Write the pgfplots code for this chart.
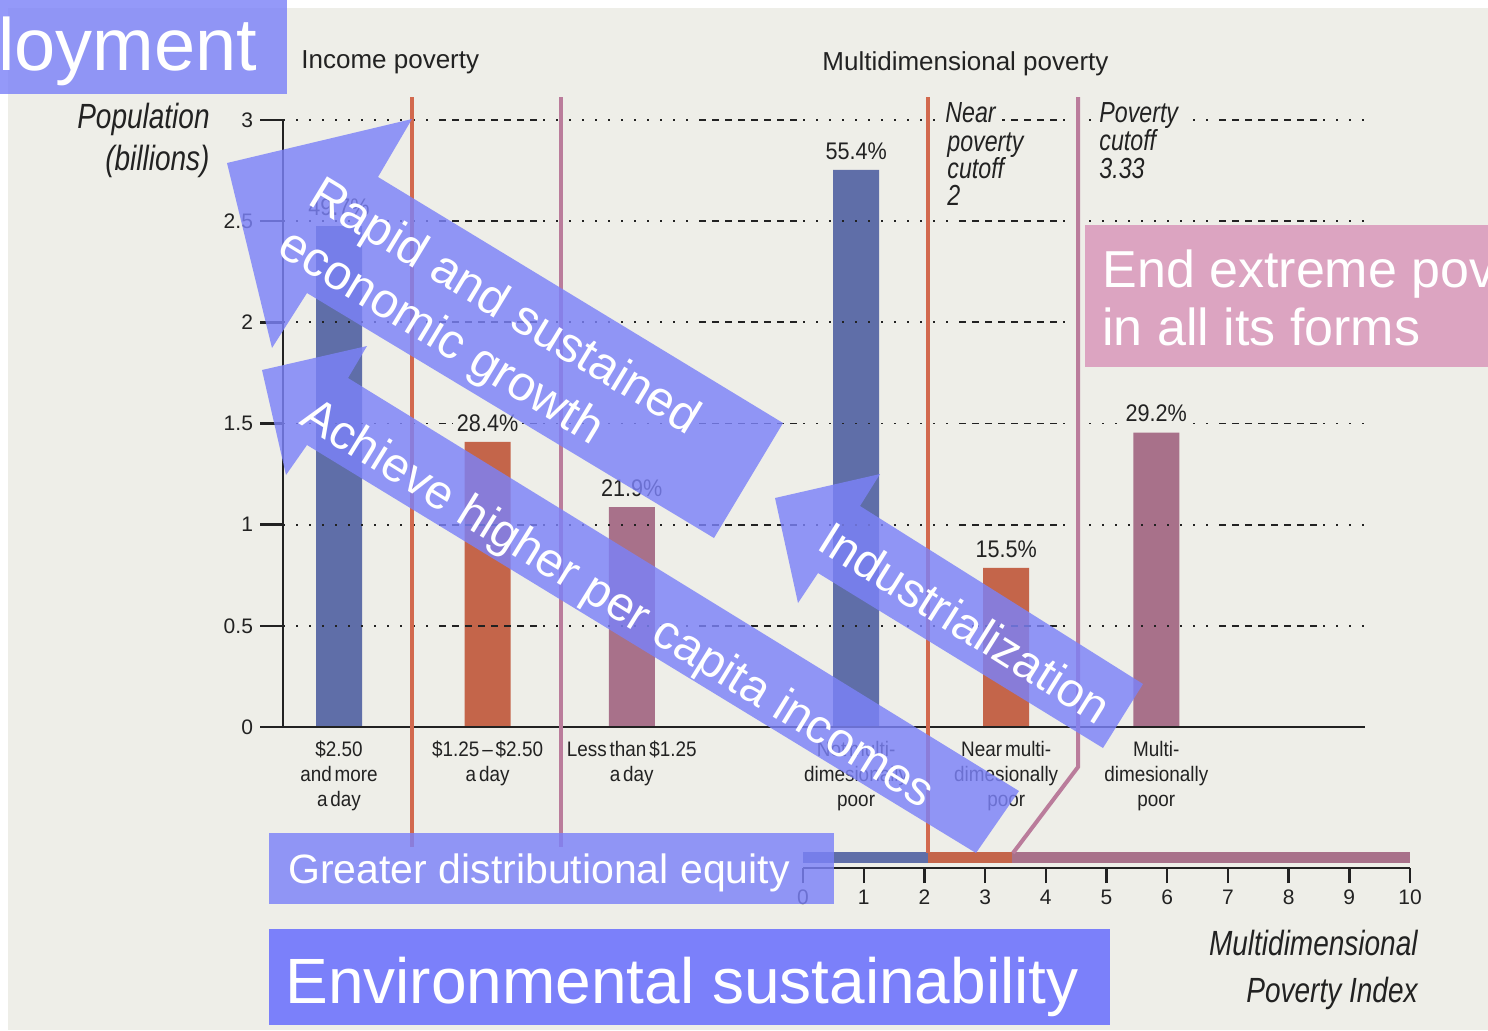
\documentclass[border=0pt]{standalone}
\usepackage{pgfplots}
\pgfplotsset{compat=1.18}
\usepackage{fontspec}
\setmainfont{Liberation Sans}
\newfontfamily\cond[FakeStretch=0.9,WordSpace=0.55]{Liberation Sans}
\newfontfamily\condi[FakeStretch=0.8]{Liberation Sans}
\definecolor{bg}{HTML}{EEEEE8}
\definecolor{bblue}{HTML}{5F6EA8}
\definecolor{borange}{HTML}{C4654A}
\definecolor{bpurple}{HTML}{A8718A}
\definecolor{lorange}{HTML}{D2694E}
\definecolor{lpurple}{HTML}{BA7C9B}
\definecolor{arr}{HTML}{7C82F8}
\definecolor{env}{HTML}{7B80FA}
\definecolor{pinkbox}{HTML}{DCA4C1}
\definecolor{ink}{HTML}{222222}
\tikzset{gridpat/.style={dash pattern=on 1pt off 5.5pt on 1pt off 5.5pt on 1pt off 5.5pt on 1pt off 5.5pt on 1pt off 5.5pt on 1pt off 5.5pt on 1pt off 5.5pt on 1pt off 5.5pt on 1pt off 5.5pt on 1pt off 5.5pt on 1pt off 5.5pt on 1pt off 5.5pt on 3.5pt off 3pt on 3.5pt off 3pt on 3.5pt off 3pt on 3.5pt off 3pt on 3.5pt off 3pt on 3.5pt off 3pt on 3.5pt off 3pt on 3.5pt off 3pt}}
\pgfplotsset{mainaxis/.style={
  at={(141.5pt,-363.5pt)}, anchor=south west,
  scale only axis, width=541pt, height=303.5pt,
  xmin=0.6231, xmax=7.9044, ymin=0, ymax=3,
  enlargelimits=false}}
\begin{document}
\begin{tikzpicture}
\path[use as bounding box] (0,0) rectangle (744pt,-515pt);
\fill[bg] (4pt,-4pt) rectangle (744pt,-515pt);

\begin{axis}[
  mainaxis,
  axis on top,
  axis x line=bottom, axis y line=left,
  axis line style={-, ink, line width=1.2pt},
  ytick={0,0.5,1,1.5,2,2.5,3},
  yticklabels={0,0.5,1,1.5,2,2.5,3},
  ytick style={ink, line width=1.2pt},
  tick align=outside, major tick length=11.5pt,
  yticklabel style={anchor=east, text=ink, font=\fontsize{10.5pt}{10.5pt}\selectfont},
  xtick={1,2,2.97,4.48,5.49,6.5},
  xticklabels={{\$2.50\\and more\\a day},{\$1.25 – \$2.50\\a day},{Less than \$1.25\\a day},{Not multi-\\dimesionally\\poor},{Near multi-\\dimesionally\\poor},{Multi-\\dimesionally\\poor}},
  xtick style={draw=none},
  xticklabel style={align=center, anchor=north, yshift=8pt, text=ink, font=\cond\fontsize{10.5pt}{12.5pt}\selectfont},
  ymajorgrids,
  major grid style={ink, line width=0.9pt, gridpat},
]
\addplot[ybar, bar width=23pt, bar shift=0pt, fill=bblue, draw=none]
  coordinates {(1,2.476) (4.48,2.753)};
\addplot[ybar, bar width=23pt, bar shift=0pt, fill=borange, draw=none]
  coordinates {(2,1.409) (5.49,0.787)};
\addplot[ybar, bar width=23pt, bar shift=0pt, fill=bpurple, draw=none]
  coordinates {(2.97,1.087) (6.5,1.455)};
\end{axis}

\begin{axis}[
  mainaxis, hide axis,
  nodes near coords style={font=\cond\fontsize{12pt}{12pt}\selectfont, text=ink, fill=bg, anchor=south, inner xsep=2pt, inner ysep=1pt, yshift=4pt},
]
\addplot[ybar, bar width=23pt, bar shift=0pt, draw=none, fill=none, nodes near coords, point meta=explicit symbolic]
  coordinates {(1,2.476) [49.7\%] (2,1.409) [28.4\%] (2.97,1.087) [21.9\%] (4.48,2.753) [55.4\%] (5.49,0.787) [15.5\%] (6.5,1.455) [29.2\%]};
\end{axis}

\begin{axis}[
  at={(401.5pt,-434pt)}, anchor=south west,
  scale only axis, width=303.5pt, height=10.5pt,
  xmin=0, xmax=10, ymin=0, ymax=1,
  enlargelimits=false,
  axis x line=bottom, axis y line=none,
  axis line style={-, ink, line width=1.2pt},
  xtick={0,1,2,3,4,5,6,7,8,9,10},
  xticklabels={0,1,2,3,4,5,6,7,8,9,10},
  ytick=\empty,
  tick align=outside, major tick length=7.5pt,
  xtick style={ink, line width=1.2pt},
  xticklabel style={text=ink, font=\fontsize{10.5pt}{10.5pt}\selectfont},
  xbar stacked, bar width=5.5pt,
]
\addplot[fill=bblue, draw=none] coordinates {(2.06,0.5)};
\addplot[fill=borange, draw=none] coordinates {(1.38,0.5)};
\addplot[fill=bpurple, draw=none] coordinates {(6.56,0.5)};
\end{axis}

\begin{scope}[x=0.5pt,y=-0.5pt]
\draw[lorange, line width=2.2pt] (412,97) -- (412,847);
\draw[lpurple, line width=2pt] (561,97) -- (561,847);
\draw[lorange, line width=2.2pt] (928,97) -- (928,853);
\draw[lpurple, line width=2pt] (1078,97) -- (1078,767) -- (1013,853);

\node[anchor=base west, inner sep=0, text=ink, font=\fontsize{13pt}{13pt}\selectfont] at (301,68) {Income poverty};
\node[anchor=base west, inner sep=0, text=ink, font=\fontsize{13pt}{13pt}\selectfont] at (822,70) {Multidimensional poverty};

\node[anchor=base east, inner sep=0, text=ink, font=\condi\itshape\fontsize{17.5pt}{17.5pt}\selectfont] at (210,128) {Population};
\node[anchor=base east, inner sep=0, text=ink, font=\condi\itshape\fontsize{17.5pt}{17.5pt}\selectfont] at (210,170) {(billions)};

\node[anchor=base west, inner xsep=3pt, inner ysep=1pt, fill=bg, text=ink, font=\condi\itshape\fontsize{14.5pt}{14.5pt}\selectfont] at (939,122) {Near};
\node[anchor=base west, inner sep=0, text=ink, font=\condi\itshape\fontsize{14.5pt}{14.5pt}\selectfont] at (947,151) {poverty};
\node[anchor=base west, inner sep=0, text=ink, font=\condi\itshape\fontsize{14.5pt}{14.5pt}\selectfont] at (947,178) {cutoff};
\node[anchor=base west, inner sep=0, text=ink, font=\condi\itshape\fontsize{14.5pt}{14.5pt}\selectfont] at (947,205) {2};
\node[anchor=base west, inner xsep=3pt, inner ysep=1pt, fill=bg, text=ink, font=\condi\itshape\fontsize{14.5pt}{14.5pt}\selectfont] at (1093,122) {Poverty};
\node[anchor=base west, inner sep=0, text=ink, font=\condi\itshape\fontsize{14.5pt}{14.5pt}\selectfont] at (1099,150) {cutoff};
\node[anchor=base west, inner sep=0, text=ink, font=\condi\itshape\fontsize{14.5pt}{14.5pt}\selectfont] at (1099,178) {3.33};

\node[anchor=base east, inner sep=0, text=ink, font=\condi\itshape\fontsize{17.5pt}{17.5pt}\selectfont] at (1418,955) {Multidimensional};
\node[anchor=base east, inner sep=0, text=ink, font=\condi\itshape\fontsize{17.5pt}{17.5pt}\selectfont] at (1418,1002) {Poverty Index};

\begin{scope}
\clip (0,0) rectangle (1488,1030);
% arrow 1
\fill[arr, fill opacity=0.82] (227,163) -- (412,119) -- (378,177) -- (783,423) -- (714,538) -- (307,293) -- (272,348) -- cycle;
\node[rotate=-31.3, anchor=base west, inner sep=0, text=white, font=\fontsize{24.5pt}{24.5pt}\selectfont] at (306,203) {Rapid and sustained};
\node[rotate=-31.3, anchor=base west, inner sep=0, text=white, font=\fontsize{24.5pt}{24.5pt}\selectfont] at (275,253) {economic growth};
% arrow 2
\fill[arr, fill opacity=0.82] (262,370) -- (367,346) -- (348,378) -- (1019,791) -- (976,853) -- (307,445) -- (286,475) -- cycle;
\node[rotate=-31.75, anchor=base west, inner sep=0, text=white, font=\fontsize{24pt}{24pt}\selectfont] at (298,423) {Achieve higher per capita incomes};
% arrow 3
\fill[arr, fill opacity=0.82] (775,498) -- (880,474) -- (860,506) -- (1143,684) -- (1103,748) -- (818,573) -- (798,603) -- cycle;
\node[rotate=-32.2, anchor=base west, inner sep=0, text=white, font=\fontsize{24pt}{24pt}\selectfont] at (815,548) {Industrialization};
% boxes
\fill[arr, fill opacity=0.82] (269,833) rectangle (834,904);
\node[anchor=base west, inner sep=0, text=white, font=\fontsize{20.5pt}{20.5pt}\selectfont] at (288,883) {Greater distributional equity};
\fill[env] (269,929) rectangle (1110,1025);
\node[anchor=base west, inner sep=0, text=white, font=\fontsize{32pt}{32pt}\selectfont] at (285,1003) {Environmental sustainability};
\fill[pinkbox] (1085,225) rectangle (1488,367);
\node[anchor=base west, inner sep=0, text=white, font=\fontsize{26pt}{26pt}\selectfont] at (1102,287) {End extreme pov};
\node[anchor=base west, inner sep=0, text=white, font=\fontsize{26pt}{26pt}\selectfont] at (1102,345) {in all its forms};
\fill[arr, fill opacity=0.82] (0,0) rectangle (287,94);
\node[anchor=base west, inner sep=0, text=white, font=\fontsize{37pt}{37pt}\selectfont] at (-2,70) {loyment};
\end{scope}
\end{scope}
\end{tikzpicture}
\end{document}
